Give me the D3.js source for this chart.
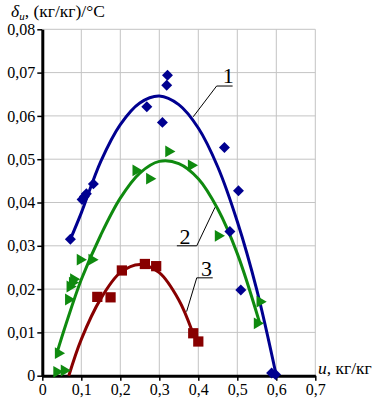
<!DOCTYPE html>
<html>
<head>
<meta charset="utf-8">
<script src="https://cdn.jsdelivr.net/npm/d3@7"></script>
<style>
  body { margin: 0; background: #fff; }
  svg, svg text { font-family: "Liberation Serif", "Times New Roman", "DejaVu Serif", serif; }
</style>
</head>
<body>
<script>
// axis ticks
const uTicks = [0, 0.1, 0.2, 0.3, 0.4, 0.5, 0.6, 0.7];
const dTicks = [0, 0.01, 0.02, 0.03, 0.04, 0.05, 0.06, 0.07, 0.08];

// measured points, series 1 (diamonds)
const s1U = [0.072, 0.102, 0.108, 0.113, 0.131, 0.268, 0.308, 0.319, 0.321, 0.467, 0.481, 0.503, 0.509, 0.588, 0.598];
const s1D = [0.0315, 0.0407, 0.0414, 0.0420, 0.0443, 0.0621, 0.0585, 0.0671, 0.0694, 0.0527, 0.0333, 0.0427, 0.0198, 0.0006, 0.0003];

// series 2 (triangles)
const s2U = [0.037, 0.056, 0.041, 0.067, 0.071, 0.077, 0.080, 0.097, 0.127, 0.240, 0.275, 0.324, 0.382, 0.451, 0.551, 0.558];
const s2D = [0.0009, 0.0012, 0.0052, 0.0176, 0.0206, 0.0215, 0.0223, 0.0268, 0.0268, 0.0474, 0.0455, 0.0518, 0.0486, 0.0323, 0.0121, 0.0171];

// series 3 (squares)
const s3U = [0.141, 0.175, 0.204, 0.263, 0.292, 0.387, 0.400];
const s3D = [0.0182, 0.0181, 0.0243, 0.0258, 0.0253, 0.0098, 0.0079];

// fitted curves
const fit1U = [0.072, 0.10, 0.15, 0.20, 0.25, 0.30, 0.35, 0.40, 0.45, 0.50, 0.55, 0.60];
const fit1D = [0.0315, 0.0376, 0.0495, 0.0580, 0.0630, 0.0646, 0.0626, 0.0572, 0.0482, 0.0356, 0.0198, 0.0];
const fit2U = [0.038, 0.06, 0.10, 0.15, 0.20, 0.25, 0.30, 0.35, 0.40, 0.45, 0.50, 0.558];
const fit2D = [0.0054, 0.0117, 0.0222, 0.0325, 0.0410, 0.0468, 0.0495, 0.0490, 0.0455, 0.0385, 0.0282, 0.0120];
const fit3U = [0.068, 0.10, 0.15, 0.20, 0.25, 0.30, 0.35, 0.383];
const fit3D = [0.0, 0.0084, 0.0178, 0.0238, 0.0257, 0.0238, 0.0175, 0.0106];

const colors = ['#000090', '#0f8a0f', '#880000'];
const serif = '"Liberation Serif", "Times New Roman", serif';

const W = 376, H = 399;
const svg = d3.select('body').append('svg')
  .attr('width', W)
  .attr('height', H)
  .attr('font-family', serif);

const x = d3.scaleLinear().domain([0, 0.7]).range([42.3, 315.3]);
const y = d3.scaleLinear().domain([0, 0.08]).range([375.7, 29.3]);

const commaFmt = (f) => (d) => d === 0 ? '0' : d3.format(f)(d).replace('.', ',');

// grid
const grid = svg.append('g').attr('stroke', '#c4c4c4').attr('stroke-width', 1);
grid.selectAll('line.v')
  .data(uTicks.slice(1))
  .join('line')
  .attr('x1', d => x(d)).attr('x2', d => x(d))
  .attr('y1', y(0)).attr('y2', y(0.08));
grid.selectAll('line.h')
  .data(dTicks.slice(1))
  .join('line')
  .attr('x1', x(0)).attr('x2', x(0.7))
  .attr('y1', d => y(d)).attr('y2', d => y(d));

// axes
const xAxis = svg.append('g')
  .attr('transform', `translate(0,${y(0)})`)
  .call(d3.axisBottom(x).tickValues(uTicks).tickSize(5).tickSizeOuter(0).tickFormat(commaFmt('.1f')));
const yAxis = svg.append('g')
  .attr('transform', `translate(${x(0)},0)`)
  .call(d3.axisLeft(y).tickValues(dTicks).tickSize(5).tickSizeOuter(0).tickFormat(commaFmt('.2f')));

[xAxis, yAxis].forEach(a => {
  a.attr('font-family', serif).attr('font-size', 16);
  a.select('.domain').attr('stroke', '#000').attr('stroke-width', 3);
  a.selectAll('.tick line').attr('stroke', '#000').attr('stroke-width', 1.5);
  a.selectAll('.tick text').attr('fill', '#000');
});
xAxis.selectAll('.tick text').attr('y', 8).attr('dy', '0.71em');
yAxis.selectAll('.tick text').attr('x', -7);

// curves
const line = d3.line()
  .x(d => x(d[0]))
  .y(d => y(d[1]))
  .curve(d3.curveCatmullRom);

const fits = [[fit1U, fit1D], [fit2U, fit2D], [fit3U, fit3D]];
fits.forEach(([us, ds], i) => {
  svg.append('path')
    .datum(d3.zip(us, ds))
    .attr('d', line)
    .attr('fill', 'none')
    .attr('stroke', colors[i])
    .attr('stroke-width', 3);
});

// markers
const series = [
  { u: s1U, d: s1D, sym: d3.symbol(d3.symbolSquare, 60), rot: 45 },
  { u: s2U, d: s2D, sym: d3.symbol(d3.symbolTriangle, 60), rot: 90 },
  { u: s3U, d: s3D, sym: d3.symbol(d3.symbolSquare, 105), rot: 0 },
];
series.forEach((s, i) => {
  svg.append('g').selectAll('path')
    .data(d3.zip(s.u, s.d))
    .join('path')
    .attr('d', s.sym)
    .attr('transform', d => `translate(${x(d[0])},${y(d[1])}) rotate(${s.rot})`)
    .attr('fill', colors[i]);
});

// curve labels with leader lines
const labels = [
  { text: '1', pts: [[0.387, 0.0598], [0.447, 0.0669], [0.488, 0.0669]], at: [0.4767, 0.0675] },
  { text: '2', pts: [[0.443, 0.0389], [0.396, 0.0300], [0.345, 0.0300]], at: [0.366, 0.0304] },
  { text: '3', pts: [[0.370, 0.0148], [0.396, 0.0226], [0.437, 0.0226]], at: [0.421, 0.0230] },
];
labels.forEach(l => {
  svg.append('path')
    .attr('d', d3.line().x(d => x(d[0])).y(d => y(d[1]))(l.pts))
    .attr('fill', 'none')
    .attr('stroke', '#000')
    .attr('stroke-width', 1);
  svg.append('text')
    .attr('x', x(l.at[0]))
    .attr('y', y(l.at[1]))
    .attr('text-anchor', 'middle')
    .attr('font-size', 22)
    .text(l.text);
});

// axis titles
const yt = svg.append('text')
  .attr('x', 11)
  .attr('y', 17)
  .attr('font-size', 17.5);
yt.append('tspan').attr('font-style', 'italic').text('δ');
yt.append('tspan').attr('dy', 3).attr('font-size', 11).attr('font-style', 'italic').text('u');
yt.append('tspan').attr('dy', -3).text(', (кг/кг)/°C');

const xt = svg.append('text')
  .attr('x', 318)
  .attr('y', 374)
  .attr('font-size', 17.5);
xt.append('tspan').attr('font-style', 'italic').text('u');
xt.append('tspan').text(', кг/кг');
</script>
</body>
</html>
